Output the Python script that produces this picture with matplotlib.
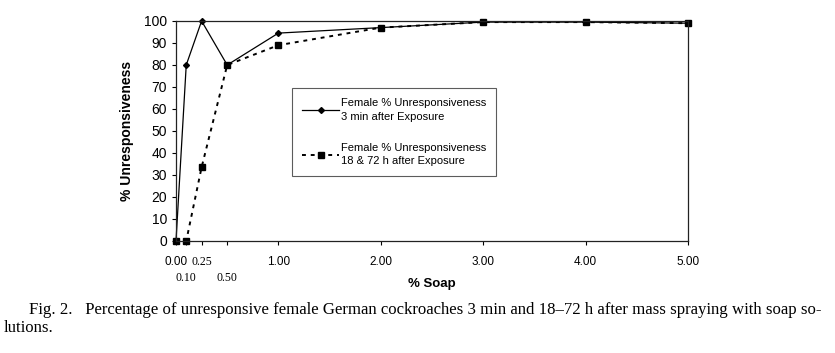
import numpy as np
import matplotlib.pyplot as plt

soap = [0.0, 0.10, 0.25, 0.50, 1.00, 2.00, 3.00, 4.00, 5.00]
unresp_3min = [0, 80, 100, 80, 94.5, 97, 99.5, 99.5, 99]
unresp_18_72h = [0, 0, 33.5, 80, 89, 97, 99.5, 99.5, 99]

# upper row of x tick labels, lower row (0.10, 0.50) done as minor ticks
major_pos = [0.0, 0.25, 1.00, 2.00, 3.00, 4.00, 5.00]
major_lab = ['0.00', '0.25', '1.00', '2.00', '3.00', '4.00', '5.00']
minor_pos = [0.10, 0.50]
minor_lab = ['0.10', '0.50']

caption = ("Fig. 2.   Percentage of unresponsive female German cockroaches 3 min and 18\u201372 h "
           "after mass spraying with soap so-")
caption2 = "lutions."

plt.rcParams['font.family'] = ['Liberation Sans', 'DejaVu Sans']

fig = plt.figure(figsize=(8.35, 3.53), dpi=100)
ax = fig.add_axes([176/835, 1-241/353, 512/835, 220/353])

ax.plot(soap, unresp_3min, color='k', lw=0.9, marker='D', ms=3,
        label='Female % Unresponsiveness\n3 min after Exposure')
ax.plot(soap, unresp_18_72h, color='k', lw=1.4, ls=(0, (2, 2.5)), marker='s', ms=5,
        label='Female % Unresponsiveness\n18 & 72 h after Exposure')

ax.set_xlim(0, 5)
ax.set_ylim(0, 100)
ax.set_yticks(np.arange(0, 101, 10))
ax.set_xticks(major_pos)
ax.set_xticklabels(major_lab)
ax.set_xticks(minor_pos, minor=True)
ax.set_xticklabels(minor_lab, minor=True)
for t in ax.get_xticklabels():
    if t.get_text() == '0.25':
        t.set_fontfamily('Liberation Serif')
for t in ax.get_xticklabels(minor=True):
    t.set_fontfamily('Liberation Serif')
    t.set_fontsize(8.5)
ax.tick_params(axis='y', labelsize=10, length=3, width=0.8, direction='out')
ax.tick_params(axis='x', which='both', labelsize=8.5, length=3, width=0.8, direction='out')
ax.tick_params(axis='x', which='major', pad=8)
ax.tick_params(axis='x', which='minor', pad=19)
for s in ax.spines.values():
    s.set_linewidth(0.9)
    s.set_color('#222222')
for ln in ax.lines:
    ln.set_clip_on(False)

ax.set_xlabel('% Soap', fontweight='bold', fontsize=9.5, va='center')
ax.xaxis.set_label_coords(0.5, -(284 - 241) / 220)
ax.set_ylabel('% Unresponsiveness', fontweight='bold', fontsize=10, labelpad=7)

leg = ax.legend(loc='upper left', bbox_to_anchor=(0.227, 0.695), fontsize=8,
                frameon=True, fancybox=False, edgecolor='#333333', handlelength=3.3,
                handletextpad=0.2, labelspacing=1.9, borderpad=0.9, borderaxespad=0)
leg.get_frame().set_linewidth(0.8)
for t in leg.get_texts():
    t.set_linespacing(1.45)

fig.text(29/835, 1-310/353, caption, fontsize=12.05, family='Liberation Serif', va='center')
fig.text(4/835, 1-328/353, caption2, fontsize=12.05, family='Liberation Serif', va='center')

fig.savefig('out.png', dpi=100)
